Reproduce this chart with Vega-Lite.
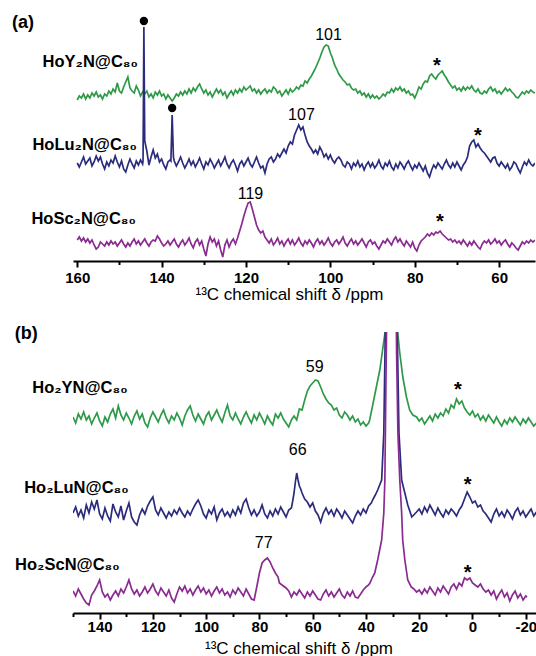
{
"$schema": "https://vega.github.io/schema/vega-lite/v6.json",
"padding": {"left": 12, "top": 12, "right": 0, "bottom": 0},
"background": "white",
"config": {"view": {"stroke": null}, "font": "Liberation Sans"},
"spacing": 71,
"bounds": "flush",
"datasets": {
"A": [
{"x":160,"g":161,"b":98,"p":21},{"x":159.5,"g":165,"b":94,"p":24},{"x":159,"g":163,"b":99,"p":20},{"x":158.5,"g":167,"b":104,"p":23},
{"x":158,"g":162,"b":97,"p":19},{"x":157.5,"g":166,"b":100,"p":22},{"x":157,"g":163,"b":103,"p":18},{"x":156.5,"g":168,"b":95,"p":21},
{"x":156,"g":165,"b":99,"p":16},{"x":155.5,"g":169,"b":105,"p":12},{"x":155,"g":164,"b":100,"p":14},{"x":154.5,"g":166,"b":104,"p":19},
{"x":154,"g":162,"b":97,"p":17},{"x":153.5,"g":167,"b":92,"p":15},{"x":153,"g":165,"b":99,"p":19},{"x":152.5,"g":170,"b":95,"p":16},
{"x":152,"g":167,"b":101,"p":20},{"x":151.5,"g":172,"b":98,"p":17},{"x":151,"g":169,"b":105,"p":19},{"x":150.5,"g":178,"b":99,"p":15},
{"x":150,"g":170,"b":94,"p":18},{"x":149.5,"g":168,"b":100,"p":21},{"x":149,"g":174,"b":92,"p":17},{"x":148.5,"g":179,"b":89,"p":14},
{"x":148,"g":184,"b":96,"p":18},{"x":147.5,"g":173,"b":102,"p":15},{"x":147,"g":170,"b":97,"p":19},{"x":146.5,"g":168,"b":93,"p":22},
{"x":146,"g":175,"b":100,"p":17},{"x":145.5,"g":171,"b":96,"p":20},{"x":145,"g":165,"b":101,"p":16},{"x":144.5,"g":169,"b":97,"p":19},
{"x":144.4,"b":100},{"x":144.2,"b":234},
{"x":144,"g":167,"b":120,"p":22},{"x":143.5,"g":170,"b":110,"p":18},{"x":143,"g":164,"b":96,"p":15},{"x":142.5,"g":167,"b":104,"p":19},
{"x":142,"g":163,"b":111,"p":21},{"x":141.5,"g":169,"b":103,"p":20},{"x":141,"g":166,"b":107,"p":25},{"x":140.5,"g":170,"b":99,"p":22},
{"x":140,"g":165,"b":102,"p":18},{"x":139.5,"g":167,"b":96,"p":15},{"x":139,"g":162,"b":92,"p":17},{"x":138.5,"g":166,"b":99,"p":20},
{"x":138,"g":163,"b":101,"p":16},{"x":137.8,"b":100},{"x":137.5,"g":160,"b":146,"p":19},{"x":137.2,"b":104},
{"x":137,"g":163,"b":100,"p":22},{"x":136.5,"g":167,"b":95,"p":17},{"x":136,"g":165,"b":99,"p":14},{"x":135.5,"g":169,"b":104,"p":18},
{"x":135,"g":166,"b":98,"p":21},{"x":134.5,"g":170,"b":93,"p":16},{"x":134,"g":167,"b":97,"p":19},{"x":133.5,"g":172,"b":102,"p":23},
{"x":133,"g":168,"b":96,"p":17},{"x":132.5,"g":173,"b":100,"p":13},{"x":132,"g":170,"b":94,"p":19},{"x":131.5,"g":174,"b":98,"p":22},
{"x":131,"g":177,"b":103,"p":16},{"x":130.5,"g":172,"b":97,"p":20},{"x":130,"g":168,"b":92,"p":12},{"x":129.5,"g":171,"b":99,"p":5},
{"x":129,"g":166,"b":96,"p":17},{"x":128.5,"g":169,"b":102,"p":24},{"x":128,"g":164,"b":98,"p":19},{"x":127.5,"g":168,"b":93,"p":22},
{"x":127,"g":172,"b":97,"p":15},{"x":126.5,"g":168,"b":101,"p":20},{"x":126,"g":171,"b":95,"p":11},{"x":125.5,"g":166,"b":99,"p":4},
{"x":125,"g":169,"b":104,"p":16},{"x":124.5,"g":163,"b":97,"p":21},{"x":124,"g":167,"b":93,"p":14},{"x":123.5,"g":170,"b":98,"p":19},
{"x":123,"g":166,"b":101,"p":22},{"x":122.5,"g":171,"b":96,"p":17},{"x":122,"g":168,"b":90,"p":23},{"x":121.5,"g":172,"b":97,"p":30},
{"x":121,"g":169,"b":100,"p":37},{"x":120.5,"g":174,"b":95,"p":45},{"x":120,"g":171,"b":99,"p":52},{"x":119.5,"g":173,"b":103,"p":58},
{"x":119,"g":175,"b":97,"p":59},{"x":118.5,"g":170,"b":94,"p":52},{"x":118,"g":172,"b":99,"p":44},{"x":117.5,"g":168,"b":104,"p":36},
{"x":117,"g":171,"b":98,"p":31},{"x":116.5,"g":167,"b":93,"p":28},{"x":116,"g":170,"b":95,"p":30},{"x":115.5,"g":172,"b":88,"p":24},
{"x":115,"g":168,"b":97,"p":21},{"x":114.5,"g":171,"b":102,"p":18},{"x":114,"g":169,"b":104,"p":22},{"x":113.5,"g":174,"b":99,"p":16},
{"x":113,"g":172,"b":102,"p":19},{"x":112.5,"g":168,"b":107,"p":23},{"x":112,"g":170,"b":104,"p":17},{"x":111.5,"g":165,"b":108,"p":20},
{"x":111,"g":168,"b":112,"p":15},{"x":110.5,"g":171,"b":108,"p":19},{"x":110,"g":167,"b":115,"p":22},{"x":109.5,"g":172,"b":119,"p":17},
{"x":109,"g":169,"b":117,"p":21},{"x":108.5,"g":171,"b":126,"p":16},{"x":108,"g":174,"b":131,"p":19},{"x":107.5,"g":172,"b":136,"p":23},
{"x":107,"g":176,"b":131,"p":18},{"x":106.5,"g":175,"b":134,"p":15},{"x":106,"g":180,"b":126,"p":20},{"x":105.5,"g":178,"b":119,"p":17},
{"x":105,"g":182,"b":115,"p":21},{"x":104.5,"g":185,"b":112,"p":18},{"x":104,"g":189,"b":108,"p":14},{"x":103.5,"g":193,"b":111,"p":19},
{"x":103,"g":198,"b":107,"p":22},{"x":102.5,"g":203,"b":114,"p":17},{"x":102,"g":209,"b":110,"p":20},{"x":101.5,"g":214,"b":104,"p":16},
{"x":101,"g":216,"b":107,"p":19},{"x":100.5,"g":215,"b":102,"p":23},{"x":100,"g":208,"b":106,"p":18},{"x":99.5,"g":203,"b":101,"p":15},
{"x":99,"g":196,"b":98,"p":19},{"x":98.5,"g":192,"b":102,"p":21},{"x":98,"g":187,"b":104,"p":17},{"x":97.5,"g":184,"b":101,"p":20},
{"x":97,"g":181,"b":96,"p":24},{"x":96.5,"g":179,"b":94,"p":18},{"x":96,"g":176,"b":99,"p":15},{"x":95.5,"g":177,"b":97,"p":19},
{"x":95,"g":173,"b":92,"p":22},{"x":94.5,"g":171,"b":98,"p":17},{"x":94,"g":172,"b":95,"p":20},{"x":93.5,"g":168,"b":100,"p":16},
{"x":93,"g":170,"b":94,"p":19},{"x":92.5,"g":166,"b":97,"p":22},{"x":92,"g":168,"b":91,"p":18},{"x":91.5,"g":164,"b":96,"p":14},
{"x":91,"g":167,"b":99,"p":19},{"x":90.5,"g":163,"b":94,"p":21},{"x":90,"g":166,"b":98,"p":17},{"x":89.5,"g":163,"b":93,"p":19},
{"x":89,"g":165,"b":96,"p":15},{"x":88.5,"g":162,"b":101,"p":12},{"x":88,"g":164,"b":95,"p":16},{"x":87.5,"g":167,"b":92,"p":20},
{"x":87,"g":165,"b":98,"p":18},{"x":86.5,"g":169,"b":95,"p":22},{"x":86,"g":168,"b":100,"p":19},{"x":85.5,"g":172,"b":94,"p":16},
{"x":85,"g":169,"b":91,"p":21},{"x":84.5,"g":173,"b":97,"p":24},{"x":84,"g":171,"b":93,"p":19},{"x":83.5,"g":174,"b":99,"p":22},
{"x":83,"g":170,"b":96,"p":18},{"x":82.5,"g":172,"b":92,"p":15},{"x":82,"g":168,"b":97,"p":20},{"x":81.5,"g":170,"b":100,"p":17},
{"x":81,"g":166,"b":95,"p":14},{"x":80.5,"g":167,"b":91,"p":19},{"x":80,"g":163,"b":96,"p":13},{"x":79.5,"g":168,"b":93,"p":10},
{"x":79,"g":174,"b":98,"p":16},{"x":78.5,"g":172,"b":94,"p":20},{"x":78,"g":177,"b":90,"p":22},{"x":77.5,"g":180,"b":95,"p":24},
{"x":77,"g":179,"b":88,"p":27},{"x":76.5,"g":185,"b":84,"p":25},{"x":76,"g":187,"b":91,"p":28},{"x":75.5,"g":184,"b":96,"p":26},
{"x":75,"g":182,"b":93,"p":29},{"x":74.5,"g":186,"b":98,"p":28},{"x":74,"g":188,"b":95,"p":30},{"x":73.5,"g":190,"b":92,"p":27},
{"x":73,"g":186,"b":97,"p":25},{"x":72.5,"g":183,"b":101,"p":23},{"x":72,"g":179,"b":96,"p":21},{"x":71.5,"g":176,"b":93,"p":22},
{"x":71,"g":173,"b":98,"p":19},{"x":70.5,"g":175,"b":94,"p":21},{"x":70,"g":171,"b":99,"p":18},{"x":69.5,"g":173,"b":95,"p":20},
{"x":69,"g":170,"b":91,"p":17},{"x":68.5,"g":174,"b":96,"p":21},{"x":68,"g":171,"b":99,"p":18},{"x":67.5,"g":174,"b":104,"p":15},
{"x":67,"g":172,"b":115,"p":19},{"x":66.5,"g":175,"b":119,"p":16},{"x":66,"g":171,"b":121,"p":20},{"x":65.5,"g":169,"b":114,"p":17},
{"x":65,"g":172,"b":117,"p":14},{"x":64.5,"g":168,"b":113,"p":12},{"x":64,"g":167,"b":110,"p":17},{"x":63.5,"g":170,"b":108,"p":20},
{"x":63,"g":168,"b":105,"p":18},{"x":62.5,"g":172,"b":102,"p":21},{"x":62,"g":174,"b":99,"p":17},{"x":61.5,"g":170,"b":103,"p":19},
{"x":61,"g":172,"b":104,"p":22},{"x":60.5,"g":168,"b":98,"p":18},{"x":60,"g":170,"b":95,"p":20},{"x":59.5,"g":167,"b":99,"p":16},
{"x":59,"g":170,"b":96,"p":19},{"x":58.5,"g":173,"b":93,"p":21},{"x":58,"g":170,"b":97,"p":17},{"x":57.5,"g":172,"b":91,"p":14},
{"x":57,"g":169,"b":94,"p":18},{"x":56.5,"g":167,"b":99,"p":16},{"x":56,"g":164,"b":97,"p":13},{"x":55.5,"g":163,"b":92,"p":11},
{"x":55,"g":166,"b":88,"p":15},{"x":54.5,"g":169,"b":94,"p":19},{"x":54,"g":167,"b":99,"p":17},{"x":53.5,"g":170,"b":96,"p":20},
{"x":53,"g":168,"b":101,"p":18},{"x":52.5,"g":171,"b":97,"p":21},{"x":52,"g":169,"b":95,"p":19},{"x":51.5,"g":168,"b":98,"p":21}
],
"B": [
{"x":150,"g":196,"b":100,"p":22},{"x":149,"g":190,"b":106,"p":17},{"x":148,"g":199,"b":97,"p":24},{"x":147,"g":194,"b":103,"p":19},
{"x":146,"g":201,"b":95,"p":14},{"x":145,"g":193,"b":108,"p":10},{"x":144,"g":197,"b":100,"p":8},{"x":143,"g":189,"b":111,"p":18},
{"x":142,"g":195,"b":104,"p":22},{"x":141,"g":200,"b":113,"p":27},{"x":140,"g":192,"b":99,"p":33},{"x":139,"g":187,"b":94,"p":21},
{"x":138,"g":196,"b":105,"p":16},{"x":137,"g":191,"b":97,"p":19},{"x":136,"g":199,"b":92,"p":13},{"x":135,"g":204,"b":109,"p":18},
{"x":134,"g":195,"b":101,"p":22},{"x":133,"g":207,"b":96,"p":17},{"x":132,"g":198,"b":107,"p":24},{"x":131,"g":193,"b":93,"p":20},
{"x":130,"g":200,"b":102,"p":26},{"x":129,"g":195,"b":110,"p":33},{"x":128,"g":189,"b":96,"p":24},{"x":127,"g":197,"b":91,"p":19},
{"x":126,"g":202,"b":88,"p":23},{"x":125,"g":194,"b":98,"p":17},{"x":124,"g":199,"b":104,"p":21},{"x":123,"g":190,"b":99,"p":26},
{"x":122,"g":186,"b":107,"p":20},{"x":121,"g":195,"b":112,"p":24},{"x":120,"g":201,"b":116,"p":29},{"x":119,"g":196,"b":103,"p":22},
{"x":118,"g":191,"b":98,"p":18},{"x":117,"g":198,"b":105,"p":25},{"x":116,"g":203,"b":100,"p":21},{"x":115,"g":195,"b":95,"p":17},
{"x":114,"g":190,"b":101,"p":23},{"x":113,"g":197,"b":97,"p":15},{"x":112,"g":193,"b":103,"p":11},{"x":111,"g":200,"b":99,"p":19},
{"x":110,"g":195,"b":105,"p":26},{"x":109,"g":188,"b":100,"p":22},{"x":108,"g":197,"b":96,"p":27},{"x":107,"g":203,"b":102,"p":20},
{"x":106,"g":207,"b":98,"p":24},{"x":105,"g":198,"b":104,"p":18},{"x":104,"g":192,"b":109,"p":23},{"x":103,"g":199,"b":113,"p":27},
{"x":102,"g":194,"b":107,"p":21},{"x":101,"g":189,"b":99,"p":25},{"x":100,"g":197,"b":95,"p":19},{"x":99,"g":201,"b":103,"p":23},
{"x":98,"g":193,"b":99,"p":17},{"x":97,"g":198,"b":106,"p":22},{"x":96,"g":203,"b":93,"p":26},{"x":95,"g":196,"b":100,"p":20},
{"x":94,"g":191,"b":104,"p":24},{"x":93,"g":200,"b":97,"p":18},{"x":92,"g":208,"b":101,"p":21},{"x":91,"g":197,"b":96,"p":16},
{"x":90,"g":193,"b":103,"p":23},{"x":89,"g":200,"b":98,"p":19},{"x":88,"g":194,"b":106,"p":25},{"x":87,"g":189,"b":100,"p":21},
{"x":86,"g":196,"b":110,"p":17},{"x":85,"g":201,"b":114,"p":24},{"x":84,"g":195,"b":105,"p":19},{"x":83,"g":190,"b":98,"p":14},
{"x":82,"g":198,"b":103,"p":13},{"x":81,"g":193,"b":97,"p":26},{"x":80.5,"p":33},{"x":80,"g":200,"b":101,"p":40},
{"x":79,"g":195,"b":108,"p":50},{"x":78,"g":189,"b":99,"p":53},{"x":77,"g":197,"b":95,"p":55},{"x":76,"g":192,"b":102,"p":51},
{"x":75,"g":188,"b":97,"p":45},{"x":74,"g":199,"b":104,"p":40},{"x":73,"g":195,"b":99,"p":36},{"x":72.5,"p":30},
{"x":72,"g":200,"b":106,"p":29},{"x":71,"g":194,"b":101,"p":27},{"x":70,"g":190,"b":96,"p":25},{"x":69,"g":186,"b":103,"p":22},
{"x":68,"g":193,"b":105,"p":16},{"x":67.5,"b":112},{"x":67,"g":197,"b":120,"p":21},{"x":66.5,"b":131},
{"x":66,"g":193,"b":140,"p":18},{"x":65.5,"b":133},{"x":65,"g":204,"b":127,"p":23},{"x":64.5,"b":124},
{"x":64,"g":203,"b":120,"p":19},{"x":63,"g":213,"b":114,"p":15},{"x":62,"g":222,"b":111,"p":21},{"x":61,"g":227,"b":106,"p":17},
{"x":60,"g":230,"b":110,"p":22},{"x":59,"g":233,"b":102,"p":18},{"x":58,"g":232,"b":98,"p":14},{"x":57,"g":226,"b":91,"p":13},
{"x":56,"g":219,"b":100,"p":19},{"x":55,"g":214,"b":105,"p":23},{"x":54,"g":210,"b":99,"p":17},{"x":53,"g":208,"b":103,"p":21},
{"x":52,"g":203,"b":97,"p":16},{"x":51,"g":205,"b":104,"p":20},{"x":50,"g":198,"b":100,"p":24},{"x":49,"g":195,"b":95,"p":18},
{"x":48,"g":201,"b":102,"p":15},{"x":47,"g":198,"b":98,"p":21},{"x":46,"g":193,"b":94,"p":17},{"x":45,"g":197,"b":90,"p":22},
{"x":44,"g":191,"b":97,"p":16},{"x":43,"g":194,"b":102,"p":15},{"x":42,"g":188,"b":98,"p":19},{"x":41,"g":191,"b":104,"p":23},
{"x":40,"g":187,"b":100,"p":26},{"x":39,"g":190,"b":107,"p":28},{"x":38.6,"g":193},{"x":38.5,"p":30},{"x":38,"b":110},
{"x":37.5,"b":113,"p":36},{"x":37.3,"g":210},{"x":36.7,"p":40},{"x":36.5,"b":118},{"x":36.1,"g":226},{"x":35.6,"b":123,"p":53},
{"x":34.8,"g":243},{"x":34.1,"b":133,"p":73},{"x":33.6,"g":266},{"x":33.3,"b":180,"p":100},{"x":32.9,"p":133},{"x":32.8,"g":281},
{"x":32.7,"b":290},{"x":32.5,"p":230},{"x":32.3,"g":400},{"x":32.2,"p":300},{"x":32.0,"b":500},{"x":31.3,"g":750,"p":800},
{"x":30.4,"b":1000,"p":1500},{"x":30.3,"g":900},{"x":29.5,"p":800},{"x":29.3,"g":750},{"x":28.9,"b":500,"p":400},
{"x":28.5,"g":380,"p":260},{"x":28.3,"b":290},{"x":28.1,"g":281},{"x":28.0,"p":180},{"x":27.6,"b":180},{"x":27.3,"g":260,"p":133},
{"x":26.6,"b":133,"p":100},{"x":26.2,"p":73},{"x":26.1,"g":235},{"x":25.4,"b":120,"p":53},{"x":24.8,"g":216},{"x":24.3,"b":108,"p":33},
{"x":23.6,"g":203},{"x":23,"p":26},{"x":22.8,"b":96},{"x":22.4,"g":198},{"x":22,"p":24},
{"x":21,"g":196,"b":101,"p":21},{"x":20,"g":192,"b":104,"p":23},{"x":19,"g":195,"b":99,"p":19},{"x":18,"g":189,"b":106,"p":24},
{"x":17,"g":193,"b":101,"p":20},{"x":16,"g":197,"b":108,"p":26},{"x":15,"g":192,"b":103,"p":22},{"x":14,"g":199,"b":98,"p":18},
{"x":13,"g":195,"b":105,"p":25},{"x":12,"g":200,"b":100,"p":21},{"x":11,"g":197,"b":96,"p":27},{"x":10,"g":204,"b":103,"p":23},
{"x":9,"g":200,"b":99,"p":19},{"x":8,"g":208,"b":104,"p":26},{"x":7,"g":205,"b":101,"p":29},{"x":6,"g":214,"b":97,"p":24},
{"x":5,"g":209,"b":103,"p":30},{"x":4,"g":212,"b":107,"p":27},{"x":3,"g":205,"b":114,"p":35},{"x":2,"g":201,"b":121,"p":33},
{"x":1,"g":198,"b":116,"p":35},{"x":0,"g":202,"b":110,"p":30},{"x":-1,"g":196,"b":112,"p":28},{"x":-2,"g":199,"b":106,"p":26},
{"x":-3,"g":193,"b":108,"p":29},{"x":-4,"g":197,"b":102,"p":24},{"x":-5,"g":192,"b":99,"p":21},{"x":-6,"g":198,"b":95,"p":23},
{"x":-7,"g":194,"b":91,"p":18},{"x":-8,"g":190,"b":99,"p":22},{"x":-9,"g":196,"b":104,"p":14},{"x":-10,"g":191,"b":97,"p":19},
{"x":-11,"g":187,"b":101,"p":23},{"x":-12,"g":193,"b":96,"p":16},{"x":-13,"g":189,"b":103,"p":20},{"x":-14,"g":195,"b":99,"p":12},
{"x":-15,"g":191,"b":94,"p":18},{"x":-16,"g":196,"b":101,"p":22},{"x":-17,"g":192,"b":105,"p":15},{"x":-18,"g":188,"b":98,"p":19},
{"x":-19,"g":194,"b":102,"p":13},{"x":-20,"g":190,"b":96,"p":17},{"x":-20.5,"p":16},{"x":-21,"g":195,"b":100},
{"x":-22,"g":191,"b":104},{"x":-23,"g":187,"b":97},{"x":-24,"g":190,"b":101}
]
},
"vconcat": [
{
"width": 462, "height": 249,
"encoding": {
"x": {"field": "x", "type": "quantitative",
 "scale": {"domain": [161, 51.5], "nice": false, "zero": false},
 "axis": {"values": [160,150,140,130,120,110,100,90,80,70,60],
  "labelExpr": "datum.value % 20 === 0 ? '' + datum.value : ''",
  "labelFontSize": 15, "labelFontWeight": "bold", "labelColor": "black", "labelBaseline": "alphabetic", "labelPadding": 15,
  "labelFlush": false, "labelOverlap": false,
  "tickSize": {"condition": {"test": "datum.value % 20 === 0", "value": 6}, "value": 3.5},
  "tickWidth": 2, "tickColor": "black", "domainColor": "black", "domainWidth": 2, "grid": false,
  "title": "¹³C chemical shift δ /ppm", "titleX": 216, "titleY": 38, "titleAlign": "center", "titleBaseline": "alphabetic",
  "titleFontSize": 17, "titleFontWeight": "normal", "titleColor": "black"}},
"y": {"field": "v", "type": "quantitative", "scale": {"domain": [0, 249], "nice": false, "zero": false}, "axis": null}
},
"layer": [
{"data": {"name": "A"}, "transform": [{"fold": ["g","b","p"], "as": ["s","v"]}],
 "mark": {"type": "line", "strokeWidth": 1.7, "clip": true, "invalid": "filter"},
 "encoding": {"color": {"field": "s", "type": "nominal", "scale": {"domain": ["g","b","p"], "range": ["#2e9a48","#2b2c7d","#8a2b91"]}, "legend": null}}},
{"data": {"values": [{"x":144.2,"v":240},{"x":137.5,"v":153}]},
 "mark": {"type": "point", "filled": true, "size": 70, "color": "black", "opacity": 1}},
{"data": {"values": [{"x":100.45,"v":221,"t":"101"},{"x":106.85,"v":141,"t":"107"},{"x":118.94,"v":62,"t":"119"}]},
 "mark": {"type": "text", "fontSize": 16, "align": "center", "baseline": "alphabetic", "color": "black"},
 "encoding": {"text": {"field": "t"}}},
{"data": {"values": [{"x":74.74,"v":189,"t":"*"},{"x":65.03,"v":119,"t":"*"},{"x":74.03,"v":33,"t":"*"}]},
 "mark": {"type": "text", "fontSize": 20, "fontWeight": "bold", "align": "center", "baseline": "alphabetic", "color": "black"},
 "encoding": {"text": {"field": "t"}}},
{"data": {"values": [{"x":145.6,"v":194,"t":"HoY₂N@C₈₀"},{"x":145.83,"v":111,"t":"HoLu₂N@C₈₀"},{"x":146.07,"v":37,"t":"HoSc₂N@C₈₀"}]},
 "mark": {"type": "text", "fontSize": 16.5, "fontWeight": "bold", "align": "right", "baseline": "alphabetic", "color": "black"},
 "encoding": {"text": {"field": "t"}}},
{"data": {"values": [{"x":175.45,"v":232.8,"t":"(a)"}]},
 "mark": {"type": "text", "fontSize": 18, "fontWeight": "bold", "align": "left", "baseline": "alphabetic", "color": "black"},
 "encoding": {"text": {"field": "t"}}}
]
},
{
"width": 463.4, "height": 281,
"encoding": {
"x": {"field": "x", "type": "quantitative",
 "scale": {"domain": [150, -24], "nice": false, "zero": false},
 "axis": {"values": [150,140,130,120,110,100,90,80,70,60,50,40,30,20,10,0,-10,-20],
  "labelExpr": "datum.value % 20 === 0 ? '' + datum.value : ''",
  "labelFontSize": 15, "labelFontWeight": "bold", "labelColor": "black", "labelBaseline": "alphabetic", "labelPadding": 12.5,
  "labelFlush": false, "labelOverlap": false,
  "tickSize": {"condition": {"test": "datum.value % 20 === 0", "value": 6}, "value": 3.5},
  "tickWidth": 2, "tickColor": "black", "domainColor": "black", "domainWidth": 2, "grid": false,
  "title": "¹³C chemical shift δ /ppm", "titleX": 225.5, "titleY": 40, "titleAlign": "center", "titleBaseline": "alphabetic",
  "titleFontSize": 17, "titleFontWeight": "normal", "titleColor": "black"}},
"y": {"field": "v", "type": "quantitative", "scale": {"domain": [0, 281], "nice": false, "zero": false}, "axis": null}
},
"layer": [
{"data": {"name": "B"}, "transform": [{"fold": ["g","b","p"], "as": ["s","v"]}],
 "mark": {"type": "line", "strokeWidth": 1.7, "clip": true, "invalid": "filter"},
 "encoding": {"color": {"field": "s", "type": "nominal", "scale": {"domain": ["g","b","p"], "range": ["#2e9a48","#2b2c7d","#8a2b91"]}, "legend": null}}},
{"data": {"values": [{"x":59.24,"v":241,"t":"59"},{"x":65.62,"v":158,"t":"66"},{"x":78.39,"v":65,"t":"77"}]},
 "mark": {"type": "text", "fontSize": 16, "align": "center", "baseline": "alphabetic", "color": "black"},
 "encoding": {"text": {"field": "t"}}},
{"data": {"values": [{"x":5.5,"v":217.5,"t":"*"},{"x":1.78,"v":122.5,"t":"*"},{"x":1.78,"v":34.5,"t":"*"}]},
 "mark": {"type": "text", "fontSize": 20, "fontWeight": "bold", "align": "center", "baseline": "alphabetic", "color": "black"},
 "encoding": {"text": {"field": "t"}}},
{"data": {"values": [{"x":129.46,"v":220,"t":"Ho₂YN@C₈₀"},{"x":129.08,"v":120,"t":"Ho₂LuN@C₈₀"},{"x":132.46,"v":43,"t":"Ho₂ScN@C₈₀"}]},
 "mark": {"type": "text", "fontSize": 16.5, "fontWeight": "bold", "align": "right", "baseline": "alphabetic", "color": "black"},
 "encoding": {"text": {"field": "t"}}},
{"data": {"values": [{"x":171.9,"v":274,"t":"(b)"}]},
 "mark": {"type": "text", "fontSize": 18, "fontWeight": "bold", "align": "left", "baseline": "alphabetic", "color": "black"},
 "encoding": {"text": {"field": "t"}}}
]
}
]
}
